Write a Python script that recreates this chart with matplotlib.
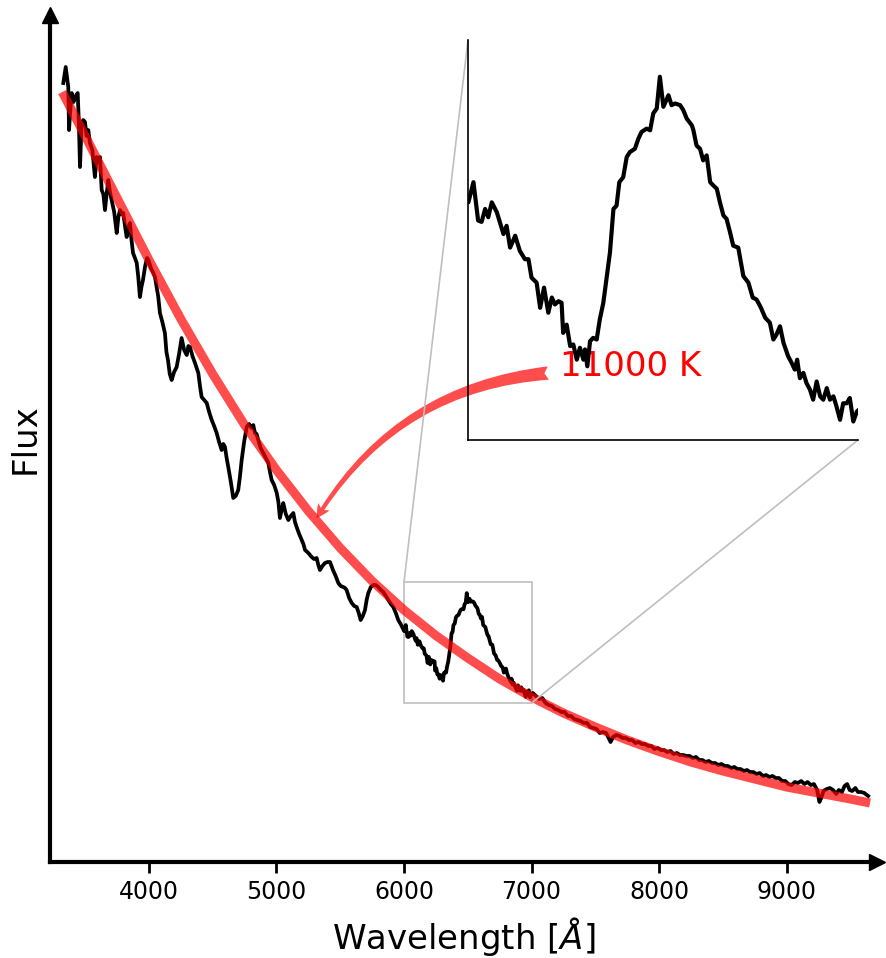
import matplotlib
matplotlib.use("Agg")
import matplotlib.pyplot as plt
from mpl_toolkits.axes_grid1.inset_locator import mark_inset

# observed spectrum (arbitrary flux units), blue part
blue_wave = [3328, 3347, 3358, 3367, 3373, 3383, 3394, 3408, 3420, 3441, 3450, 3459,
             3466, 3472, 3485, 3498, 3511, 3524, 3537, 3556, 3576, 3590, 3603, 3616,
             3629, 3642, 3655, 3668, 3681, 3694, 3707, 3727, 3747, 3760, 3773, 3786,
             3798, 3812, 3825, 3838, 3851, 3863, 3875, 3890, 3904, 3916, 3929, 3941,
             3953, 3970, 3985, 3995, 4015, 4034, 4047, 4060, 4073, 4086, 4105, 4125,
             4137, 4149, 4163, 4178, 4197, 4217, 4236, 4256, 4276, 4296, 4309, 4322,
             4341, 4361, 4374, 4387, 4400, 4413, 4433, 4453, 4472, 4492, 4511, 4531,
             4550, 4570, 4583, 4596, 4609, 4622, 4642, 4661, 4680, 4700, 4713, 4727,
             4746, 4766, 4785, 4805, 4818, 4831, 4844, 4857, 4876, 4896, 4916, 4936,
             4949, 4962, 4982, 5002, 5015, 5027, 5040, 5053, 5073, 5093, 5112, 5132,
             5145, 5158, 5178, 5198, 5211, 5224, 5250, 5276, 5295, 5315, 5328, 5341,
             5360, 5380, 5400, 5420, 5443, 5464, 5485, 5504, 5524, 5537, 5550, 5570,
             5590, 5610, 5629, 5645, 5660, 5677, 5694, 5707, 5720, 5740, 5759, 5778,
             5798, 5818, 5838, 5857, 5877, 5897, 5916, 5936, 5955, 5978]
blue_flux = [779, 795, 784, 775, 732, 752, 769, 760, 765, 769, 740, 695,
             720, 739, 742, 740, 726, 732, 719, 712, 685, 705, 700, 705,
             672, 668, 652, 668, 682, 670, 662, 650, 629, 645, 652, 648,
             649, 636, 625, 635, 639, 622, 609, 604, 599, 585, 565, 575,
             582, 596, 604, 602, 594, 589, 585, 575, 565, 549, 540, 529,
             510, 502, 488, 482, 490, 495, 508, 524, 512, 507, 516, 515,
             506, 499, 494, 489, 476, 465, 462, 459, 450, 442, 436, 429,
             420, 412, 418, 415, 404, 395, 380, 364, 366, 372, 385, 402,
             420, 435, 438, 434, 437, 429, 428, 422, 414, 409, 404, 399,
             390, 382, 377, 369, 360, 344, 352, 359, 348, 342, 346, 349,
             340, 335, 328, 322, 318, 312, 309, 305, 303, 304, 297, 292,
             296, 299, 300, 300, 292, 286, 279, 276, 275, 274, 272, 264,
             259, 256, 255, 249, 242, 246, 252, 262, 269, 275, 277, 277,
             275, 272, 270, 266, 262, 258, 255, 249, 242, 237]

# H-alpha region (also shown in the zoom)
mid_wave = [6001, 6014, 6026, 6035, 6044, 6052, 6061, 6074, 6082, 6091, 6099, 6108,
            6121, 6133, 6146, 6155, 6163, 6176, 6185, 6195, 6206, 6215, 6223, 6232,
            6240, 6244, 6253, 6262, 6270, 6279, 6287, 6296, 6300, 6306, 6313, 6321,
            6330, 6338, 6347, 6356, 6364, 6373, 6381, 6388, 6398, 6407, 6415, 6428,
            6437, 6445, 6458, 6467, 6475, 6484, 6492, 6501, 6514, 6522, 6531, 6544,
            6552, 6561, 6574, 6578, 6586, 6595, 6603, 6612, 6621, 6629, 6638, 6646,
            6655, 6663, 6672, 6680, 6693, 6706, 6719, 6730, 6740, 6749, 6753, 6762,
            6774, 6783, 6791, 6800, 6809, 6821, 6830, 6838, 6844, 6851, 6860, 6868,
            6877, 6885, 6894, 6903, 6911, 6920, 6928, 6937, 6945, 6954, 6962, 6971,
            6979, 6988, 6997]
mid_flux = [230.9, 237.0, 225.4, 225.0, 228.9, 226.4, 230.9, 227.9, 224.8, 221.3, 223.8, 217.2,
            220.8, 216.2, 213.7, 213.7, 208.1, 206.6, 199.0, 205.1, 197.5, 202.1, 200.0, 201.0,
            200.5, 191.4, 193.9, 187.4, 187.9, 183.3, 186.9, 183.3, 186.4, 181.3, 188.9, 189.9,
            189.4, 195.5, 200.5, 208.6, 215.7, 228.9, 229.9, 237.0, 238.5, 244.6, 246.1, 247.1,
            250.2, 252.2, 253.2, 252.7, 257.8, 259.3, 268.9, 259.8, 263.3, 260.3, 260.8, 260.3,
            258.8, 256.2, 254.2, 252.7, 248.1, 247.1, 243.6, 245.1, 237.0, 236.0, 235.0, 230.9,
            226.9, 225.9, 221.8, 217.8, 217.2, 208.6, 206.6, 202.1, 201.5, 199.5, 198.5, 196.0,
            194.5, 189.4, 190.9, 193.4, 188.4, 184.3, 182.3, 180.3, 183.3, 177.7, 179.3, 176.2,
            174.2, 171.2, 176.7, 172.2, 171.2, 174.7, 171.2, 172.2, 169.1, 165.1, 170.1, 170.1,
            171.7, 164.6, 167.6]

red_wave = [7010, 7035, 7060, 7085, 7110, 7135, 7160, 7185, 7210, 7235, 7260, 7285,
            7310, 7335, 7360, 7385, 7410, 7435, 7460, 7485, 7510, 7535, 7560, 7585,
            7605, 7620, 7640, 7665, 7690, 7715, 7740, 7765, 7790, 7815, 7840, 7865,
            7890, 7915, 7940, 7965, 7990, 8015, 8040, 8065, 8090, 8115, 8140, 8165,
            8190, 8215, 8240, 8265, 8290, 8315, 8340, 8365, 8390, 8415, 8440, 8465,
            8490, 8515, 8540, 8565, 8590, 8615, 8640, 8665, 8690, 8715, 8740, 8765,
            8790, 8815, 8840, 8865, 8890, 8915, 8940, 8965, 8990, 9015, 9040, 9065,
            9090, 9115, 9140, 9165, 9190, 9215, 9240, 9258, 9272, 9290, 9315, 9340,
            9365, 9390, 9410, 9435, 9455, 9475, 9495, 9515, 9540, 9560, 9585, 9610, 9640]
red_flux = [169, 166, 163, 164, 159, 157, 156, 153, 152, 150, 150, 146,
            146, 143, 142, 141, 139, 139, 135, 134, 133, 129, 130, 129,
            124, 120, 125, 127, 126, 124, 124, 122, 122, 119, 120, 118,
            118, 116, 116, 113, 114, 112, 112, 110, 111, 108, 109, 107,
            107, 106, 106, 104, 105, 102, 102, 100, 101, 99, 99, 97,
            98, 96, 96, 94, 95, 93, 93, 91, 92, 90, 90, 88,
            89, 86, 87, 85, 86, 84, 84, 81, 81, 78, 77, 80,
            79, 81, 78, 80, 77, 78, 72, 60, 64, 71, 73, 74,
            72, 68, 72, 70, 76, 78, 72, 71, 74, 70, 70, 69, 66]

spec_wave = blue_wave + mid_wave + red_wave
spec_flux = blue_flux + mid_flux + red_flux

# 11000 K blackbody
bb_wave = [3320, 3500, 3750, 4000, 4250, 4500, 4750, 5000, 5250, 5500, 5750, 6000,
           6250, 6500, 6750, 7000, 7250, 7500, 7750, 8000, 8250, 8500, 8750, 9000,
           9250, 9500, 9655]
bb_flux = [770, 726, 664, 602, 543, 488, 437, 392, 351, 314, 281, 252,
           226.5, 204, 183, 165, 149, 135, 122, 110.5, 100, 91, 83, 75,
           69, 63, 59]

xticks = [4000, 5000, 6000, 7000, 8000, 9000]
temp_label = "11000 K"

fig = plt.figure(figsize=(8.87, 9.58), dpi=100)
ax = fig.add_axes([0.0564, 0.1002, 0.9324, 0.8841])

ax.plot(spec_wave, spec_flux, color='black', lw=2.7, solid_joinstyle='round', zorder=2)
ax.plot(bb_wave, bb_flux, color='red', lw=6.5, alpha=0.7,
        solid_capstyle='butt', zorder=3)

ax.set_xlim(3224, 9710)
ax.set_ylim(0, 847)
ax.set_xticks(xticks)
ax.set_yticks([])
ax.tick_params(axis='x', labelsize=17, length=8, width=2, pad=5)
ax.spines[['top', 'right']].set_visible(False)
ax.spines[['left', 'bottom']].set_linewidth(3)
ax.plot(1, 0, '>k', ms=12, transform=ax.transAxes, clip_on=False)
ax.plot(0, 1, '^k', ms=12, transform=ax.transAxes, clip_on=False)

ax.set_xlabel(r'Wavelength [$\AA$]', fontsize=24.5, labelpad=8)
ax.set_ylabel('Flux', fontsize=24.5, labelpad=6)

ax.text(7224, 496, temp_label, color='red', fontsize=24.5, ha='left', va='center')
ax.annotate("", xy=(5316, 344), xytext=(7132, 489),
            arrowprops=dict(arrowstyle="fancy,head_length=0.4,head_width=0.4,tail_width=0.4",
                            connectionstyle="arc3,rad=0.25", color='red', alpha=0.7,
                            lw=0, mutation_scale=24, shrinkA=0, shrinkB=0))

# zoom on H-alpha
axins = fig.add_axes([0.5276, 0.5407, 0.4397, 0.4175])
axins.set_facecolor('none')
axins.plot(spec_wave, spec_flux, color='black', lw=3, solid_joinstyle='round')
axins.set_xlim(6000, 7000)
axins.set_ylim(159, 280)
axins.set_xticks([])
axins.set_yticks([])
axins.spines[['top', 'right']].set_visible(False)
axins.spines[['left', 'bottom']].set_linewidth(1.2)
mark_inset(ax, axins, loc1=2, loc2=4, fc='none', ec='0.75', lw=1.2)

fig.savefig('out.png', dpi=100)
